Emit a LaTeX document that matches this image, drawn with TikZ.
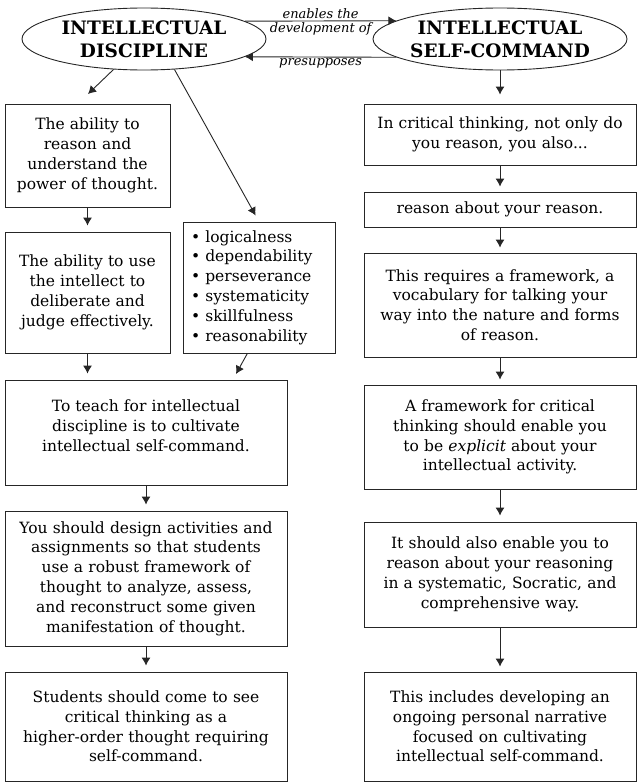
\documentclass[tikz,border=0pt]{standalone}
\usepackage{fontspec}
\setmainfont{DejaVu Serif}
\usepackage{tikz}
\usetikzlibrary{arrows.meta,shapes.geometric,calc}

\tikzset{
  idea/.style={draw=black!85, ellipse, line width=0.9pt, minimum width=244pt, minimum height=62pt,
    inner sep=0pt, align=center, font=\fontsize{18.5pt}{23pt}\selectfont\bfseries},
  note/.style={draw=black!85, rectangle, line width=0.9pt, align=center, inner sep=0pt,
    font=\fontsize{15.5pt}{19.8pt}\selectfont},
  lbl/.style={font=\fontsize{13pt}{15pt}\selectfont\itshape, align=center, inner sep=1.5pt},
  arr/.style={-{Latex[length=8pt,width=9pt]}, line width=0.9pt, draw=black!85},
}

\begin{document}
\begin{tikzpicture}[x=1pt,y=-1pt]
\useasboundingbox (0,0) rectangle (638,784);

% the two ideas
\node[idea] (ldisc) at (144,39) {INTELLECTUAL\\DISCIPLINE};
\node[idea] (rself) at (500,39) {INTELLECTUAL\\SELF-COMMAND};

\draw[arr] (ldisc.10) -- node[lbl, above] {enables the} node[lbl, below] {development of} (rself.170);
\draw[arr] (rself.-170) -- node[lbl, below] {presupposes} (ldisc.-10);

% left column
\node[note, minimum width=165pt, minimum height=103pt, text width=160pt] (b1) at (87.5,155.5)
  {The ability to\\ reason and\\ understand the\\ power of thought.};
\node[note, minimum width=165pt, minimum height=121pt, text width=160pt] (b2) at (87.5,292.5)
  {The ability to use\\ the intellect to\\ deliberate and\\ judge effectively.};
\node[note, minimum width=152pt, minimum height=131pt, text width=136pt, align=left] (bl) at (259,287.5)
  {• logicalness\\ • dependability\\ • perseverance\\ • systematicity\\ • skillfulness\\ • reasonability};
\node[note, minimum width=282pt, minimum height=105pt, text width=276pt] (b3) at (146,432.5)
  {To teach for intellectual\\ discipline is to cultivate\\ intellectual self-command.\\[-6pt]\mbox{}};
\node[note, minimum width=282pt, minimum height=135pt, text width=278pt] (b4) at (146,578.5)
  {You should design activities and\\ assignments so that students\\ use a robust framework of\\
   thought to analyze, assess,\\ and reconstruct some given\\ manifestation of thought.};
\node[note, minimum width=282pt, minimum height=109pt, text width=278pt] (b5) at (146,726.5)
  {Students should come to see\\ critical thinking as a\\ higher-order thought requiring\\ self-command.};

% right column
\node[note, minimum width=272pt, minimum height=61pt, text width=268pt] (r1) at (500,134.5)
  {In critical thinking, not only do\\ you reason, you also...};
\node[note, minimum width=272pt, minimum height=35pt, text width=268pt] (r2) at (500,209.5)
  {reason about your reason.};
\node[note, minimum width=272pt, minimum height=104pt, text width=268pt] (r3) at (500,305)
  {This requires a framework, a\\ vocabulary for talking your\\ way into the nature and forms\\ of reason.};
\node[note, minimum width=272pt, minimum height=104pt, text width=268pt] (r4) at (500,437)
  {A framework for critical\\ thinking should enable you\\ to be \textit{explicit} about your\\ intellectual activity.};
\node[note, minimum width=272pt, minimum height=105pt, text width=268pt] (r5) at (500,574.5)
  {It should also enable you to\\ reason about your reasoning\\ in a systematic, Socratic, and\\ comprehensive way.};
\node[note, minimum width=272pt, minimum height=109pt, text width=268pt] (r6) at (500,726.5)
  {This includes developing an\\ ongoing personal narrative\\ focused on cultivating\\ intellectual self-command.};

% connectors
\coordinate (t1) at (88,94);
\coordinate (t2) at (236,374);
\draw[arr] (ldisc.-135) -- (t1);
\draw[arr, shorten >=7pt] (ldisc.-45) -- (bl.north);
\draw[arr, shorten >=6pt] (b1.south) -- (b2.north);
\draw[arr, shorten >=6pt] (b2.south) -- (b2.south |- b3.north);
\draw[arr] (bl.-100) -- (t2);
\draw[arr, shorten >=6pt] (b3.south) -- (b4.north);
\draw[arr, shorten >=6pt] (b4.south) -- (b5.north);

\draw[arr, shorten >=9pt] (rself.south) -- (r1.north);
\draw[arr, shorten >=5pt] (r1.south) -- (r2.north);
\draw[arr, shorten >=5pt] (r2.south) -- (r3.north);
\draw[arr, shorten >=5pt] (r3.south) -- (r4.north);
\draw[arr, shorten >=6pt] (r4.south) -- (r5.north);
\draw[arr, shorten >=5pt] (r5.south) -- (r6.north);
\end{tikzpicture}
\end{document}
